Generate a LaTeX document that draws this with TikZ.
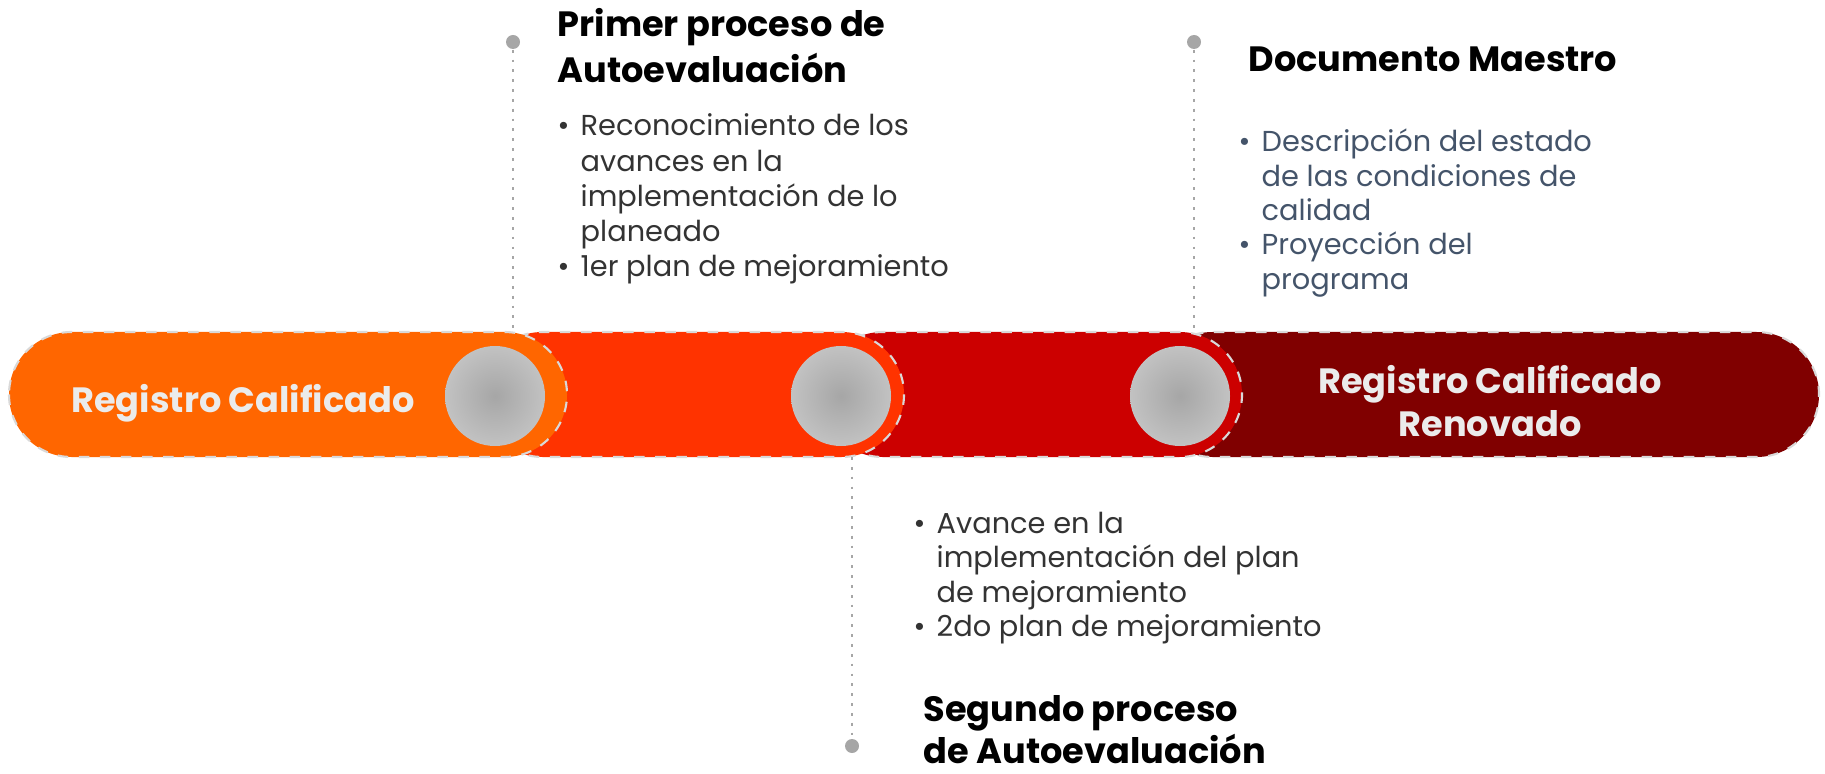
\documentclass[tikz,border=0pt]{standalone}
\usepackage{fontspec}
\setmainfont{Poppins}
\definecolor{orng}{HTML}{FF6600}
\definecolor{redorng}{HTML}{FF3300}
\definecolor{dkred}{HTML}{CC0000}
\definecolor{wine}{HTML}{800000}
\definecolor{pingray}{HTML}{A6A6A6}
\definecolor{bartxt}{HTML}{EBEBEB}
\definecolor{bodytxt}{HTML}{333333}
\definecolor{slate}{HTML}{44546A}
\pgfdeclareradialshading{discshade}{\pgfpoint{0bp}{0bp}}{color(0bp)=(pingray); color(50bp)=(black!13); color(72bp)=(black!13)}
\newcommand{\bul}{\makebox[2.3mm][l]{\textbullet}}
\tikzstyle{seg} = [draw=white!85!black, dashed, line width=0.6pt, rounded corners=6.25mm]
\tikzstyle{disc} = [circle, shading=discshade, minimum size=10mm, inner sep=0mm]
\tikzstyle{pin} = [circle, fill=pingray, inner sep=0mm, minimum size=1.4mm]
\tikzstyle{l} = [pingray, dotted, line width=0.8pt]
\tikzstyle{heading} = [anchor=base west, inner sep=0mm, font=\bfseries\fontsize{10}{13}\selectfont]
\tikzstyle{bullets} = [anchor=base west, inner sep=0mm, font=\fontsize{8.2}{10}\selectfont]
\tikzstyle{bartext} = [anchor=base, inner sep=0mm, text=bartxt, font=\bfseries\fontsize{10}{12.5}\selectfont]

\begin{document}
\begin{tikzpicture}
                \useasboundingbox (0,0) rectangle (18.25,-7.74);
                \draw[seg, fill=wine] (11.5,-3.32) rectangle (18.19,-4.57);
                \draw[seg, fill=dkred] (8.2,-3.32) rectangle (12.42,-4.57);
                \draw[seg, fill=redorng] (4.8,-3.32) rectangle (9.04,-4.57);
                \draw[seg, fill=orng] (0.09,-3.32) rectangle (5.67,-4.57);
                \foreach \n/\x in {1/4.95, 2/8.41, 3/11.80} {
                    \node[disc] (c\n) at (\x,-3.96) {};
                }

                \node[pin] (p1) at (5.13,-0.42) {};
                \coordinate (b1) at (5.13,-3.32);
                \draw[l] (p1) -- (b1);
                \node[pin] (p2) at (8.52,-7.46) {};
                \coordinate (b2) at (8.52,-4.57);
                \draw[l] (b2) -- (p2);
                \node[pin] (p3) at (11.94,-0.42) {};
                \coordinate (b3) at (11.94,-3.32);
                \draw[l] (p3) -- (b3);

                \node[bartext] (rc) at (2.43,-4.12) {Registro Calificado};
                \node[bartext] (rcr) at (14.90,-3.93) {\begin{tabular}[t]{@{}c@{}}Registro Calificado\\Renovado\end{tabular}};

                \node[heading] (t1) at (5.57,-0.37) {\begin{tabular}[t]{@{}l@{}}Primer proceso de\\Autoevaluación\end{tabular}};
                \node[bullets, text=bodytxt] (l1) at (5.57,-1.36) {\begin{tabular}[t]{@{}l@{}l@{}}
                    \bul & Reconocimiento de los\\ & avances en la\\ & implementación de lo\\ & planeado\\
                    \bul & 1er plan de mejoramiento\end{tabular}};

                \node[heading] (t2) at (12.48,-0.72) {Documento Maestro};
                \node[bullets, text=slate, font=\fontsize{8.2}{9.75}\selectfont] (l2) at (12.38,-1.52) {\begin{tabular}[t]{@{}l@{}l@{}}
                    \bul & Descripción del estado\\ & de las condiciones de\\ & calidad\\
                    \bul & Proyección del\\ & programa\end{tabular}};

                \node[bullets, text=bodytxt, font=\fontsize{8.2}{9.85}\selectfont] (l3) at (9.13,-5.33) {\begin{tabular}[t]{@{}l@{}l@{}}
                    \bul & Avance en la\\ & implementación del plan\\ & de mejoramiento\\
                    \bul & 2do plan de mejoramiento\end{tabular}};
                \node[heading, text depth=0pt, font=\bfseries\fontsize{10}{11.5}\selectfont] (t3) at (9.23,-7.63) {\begin{tabular}[b]{@{}l@{}}Segundo proceso\\de Autoevaluación\end{tabular}};
\end{tikzpicture}
\end{document}
